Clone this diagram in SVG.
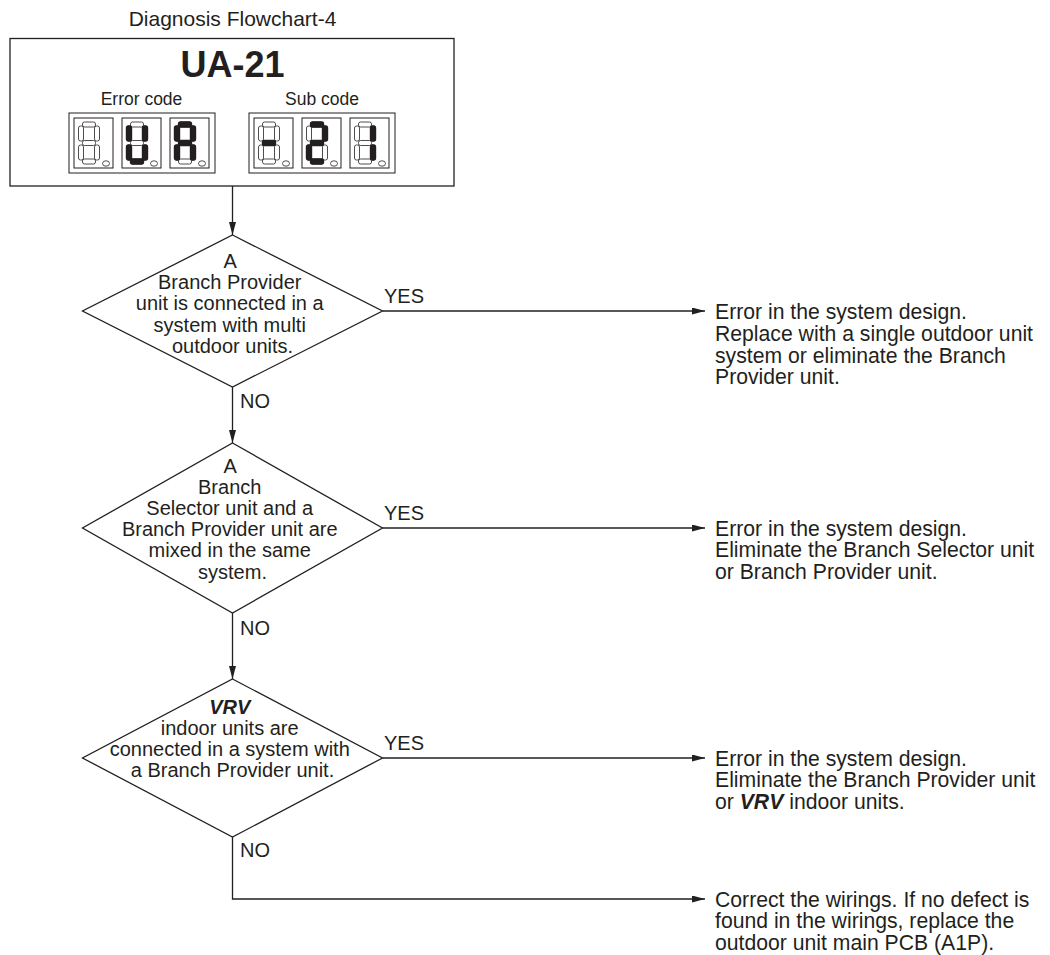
<svg xmlns="http://www.w3.org/2000/svg" xmlns:xlink="http://www.w3.org/1999/xlink" width="1050" height="955" viewBox="0 0 1050 955">
<style>
text{font-family:"Liberation Sans",Arial,sans-serif;fill:#231f20}
.t{font-size:20px}
.r{font-size:21.2px}
.c{text-anchor:middle}
.shape{fill:#fff;stroke:#231f20;stroke-width:1.3}
.disp{fill:#fff;stroke:#231f20;stroke-width:1}
.seg{fill:#fff;stroke:#231f20;stroke-width:0.8}
.on{fill:#231f20;stroke:#231f20;stroke-width:1.4}
.conn{fill:none;stroke:#231f20;stroke-width:1.3}
.bi{font-weight:bold;font-style:italic}
</style>
<defs>
<marker id="arr" markerUnits="userSpaceOnUse" markerWidth="14" markerHeight="8" refX="13" refY="3.5" orient="auto">
<path d="M0,0 L13,3.5 L0,7 z" fill="#231f20"/>
</marker>
<rect id="sa" x="4" y="0" width="13" height="5" rx="2"/>
<rect id="sb" x="16" y="4" width="5" height="15" rx="2"/>
<rect id="sc" x="16" y="23" width="5" height="15" rx="2"/>
<rect id="sd" x="4" y="37" width="13" height="5" rx="2"/>
<rect id="se" x="0" y="23" width="5" height="15" rx="2"/>
<rect id="sf" x="0" y="4" width="5" height="15" rx="2"/>
<rect id="sg" x="4" y="18.5" width="13" height="5" rx="2"/>
<ellipse id="dp" cx="27.5" cy="41.5" rx="3.5" ry="2.7"/>
<g id="d8" class="seg">
<use href="#sa"/><use href="#sb"/><use href="#sc"/><use href="#sd"/><use href="#se"/><use href="#sf"/><use href="#sg"/><use href="#dp"/>
</g>
</defs>
<rect width="1050" height="955" fill="#fff"/>

<text class="c" x="232.5" y="26" style="font-size:21px">Diagnosis Flowchart-4</text>

<g id="header">
<rect class="shape" x="10" y="38.5" width="444" height="147.5"/>
<text class="c" x="232.5" y="77" style="font-size:36px;font-weight:bold">UA-21</text>
<text class="c" x="141.5" y="105" style="font-size:17.5px">Error code</text>
<text class="c" x="322" y="105" style="font-size:17.5px">Sub code</text>
<g id="errorcode">
<rect class="disp" x="69" y="113" width="146" height="60"/>
<rect class="disp" x="74" y="118" width="39" height="50"/>
<rect class="disp" x="122" y="118" width="39" height="50"/>
<rect class="disp" x="170" y="118" width="39" height="50"/>
<g transform="translate(78.5,122)"><use href="#d8"/></g>
<g transform="translate(126.5,122)"><use href="#d8"/><use href="#sb" class="on"/><use href="#sc" class="on"/><use href="#sd" class="on"/><use href="#se" class="on"/><use href="#sf" class="on"/></g>
<g transform="translate(174.5,122)"><use href="#d8"/><use href="#sa" class="on"/><use href="#sb" class="on"/><use href="#sc" class="on"/><use href="#se" class="on"/><use href="#sf" class="on"/><use href="#sg" class="on"/></g>
</g>
<g id="subcode">
<rect class="disp" x="249" y="113" width="146" height="60"/>
<rect class="disp" x="254" y="118" width="39" height="50"/>
<rect class="disp" x="302" y="118" width="39" height="50"/>
<rect class="disp" x="350" y="118" width="39" height="50"/>
<g transform="translate(258.5,122)"><use href="#d8"/><use href="#sg" class="on"/></g>
<g transform="translate(306.5,122)"><use href="#d8"/><use href="#sa" class="on"/><use href="#sb" class="on"/><use href="#sg" class="on"/><use href="#se" class="on"/><use href="#sd" class="on"/></g>
<g transform="translate(354.5,122)"><use href="#d8"/><use href="#sb" class="on"/><use href="#sc" class="on"/></g>
</g>
</g>

<g id="connectors">
<path class="conn" d="M232.5,186 V235" marker-end="url(#arr)"/>
<path class="conn" d="M232.5,387 V443" marker-end="url(#arr)"/>
<path class="conn" d="M232.5,613 V679" marker-end="url(#arr)"/>
<path class="conn" d="M232.5,837 V899 H705" marker-end="url(#arr)"/>
<path class="conn" d="M382.5,311 H705" marker-end="url(#arr)"/>
<path class="conn" d="M382.5,528 H705" marker-end="url(#arr)"/>
<path class="conn" d="M382.5,758 H705" marker-end="url(#arr)"/>
<text class="t" x="384" y="303">YES</text>
<text class="t" x="384" y="520">YES</text>
<text class="t" x="384" y="750">YES</text>
<text class="t" x="240" y="408">NO</text>
<text class="t" x="240" y="635">NO</text>
<text class="t" x="240" y="857">NO</text>
</g>

<g id="q1">
<polygon class="shape" points="232.5,235 382.5,311 232.5,387 82.5,311"/>
<text class="t c" x="232.5" y="268">
<tspan x="232.5">A</tspan>
<tspan x="232.5" dy="21.2">Branch Provider</tspan>
<tspan x="232.5" dy="21.2">unit is connected in a</tspan>
<tspan x="232.5" dy="21.2">system with multi</tspan>
<tspan x="232.5" dy="21.2">outdoor units.</tspan>
</text>
</g>

<g id="q2">
<polygon class="shape" points="232.5,443 382.5,528 232.5,613 82.5,528"/>
<text class="t c" x="232.5" y="473">
<tspan x="232.5">A</tspan>
<tspan x="232.5" dy="21.1">Branch</tspan>
<tspan x="232.5" dy="21.1">Selector unit and a</tspan>
<tspan x="232.5" dy="21.1">Branch Provider unit are</tspan>
<tspan x="232.5" dy="21.1">mixed in the same</tspan>
<tspan x="232.5" dy="21.1">system.</tspan>
</text>
</g>

<g id="q3">
<polygon class="shape" points="232.5,679 382.5,758 232.5,837 82.5,758"/>
<text class="t c" x="232.5" y="714">
<tspan x="232.5" class="bi">VRV</tspan>
<tspan x="232.5" dy="21">indoor units are</tspan>
<tspan x="232.5" dy="21">connected in a system with</tspan>
<tspan x="232.5" dy="21">a Branch Provider unit.</tspan>
</text>
</g>

<g id="r1">
<text class="r" x="715" y="319.3">
<tspan x="715">Error in the system design.</tspan>
<tspan x="715" dy="21.6">Replace with a single outdoor unit</tspan>
<tspan x="715" dy="21.6">system or eliminate the Branch</tspan>
<tspan x="715" dy="21.6">Provider unit.</tspan>
</text>
</g>

<g id="r2">
<text class="r" x="715" y="535.5">
<tspan x="715">Error in the system design.</tspan>
<tspan x="715" dy="21.6">Eliminate the Branch Selector unit</tspan>
<tspan x="715" dy="21.6">or Branch Provider unit.</tspan>
</text>
</g>

<g id="r3">
<text class="r" x="715" y="765.5">
<tspan x="715">Error in the system design.</tspan>
<tspan x="715" dy="21.6">Eliminate the Branch Provider unit</tspan>
<tspan x="715" dy="21.6">or <tspan class="bi">VRV</tspan> indoor units.</tspan>
</text>
</g>

<g id="r4">
<text class="r" x="715" y="906.5">
<tspan x="715">Correct the wirings. If no defect is</tspan>
<tspan x="715" dy="21.6">found in the wirings, replace the</tspan>
<tspan x="715" dy="21.6">outdoor unit main PCB (A1P).</tspan>
</text>
</g>
</svg>
